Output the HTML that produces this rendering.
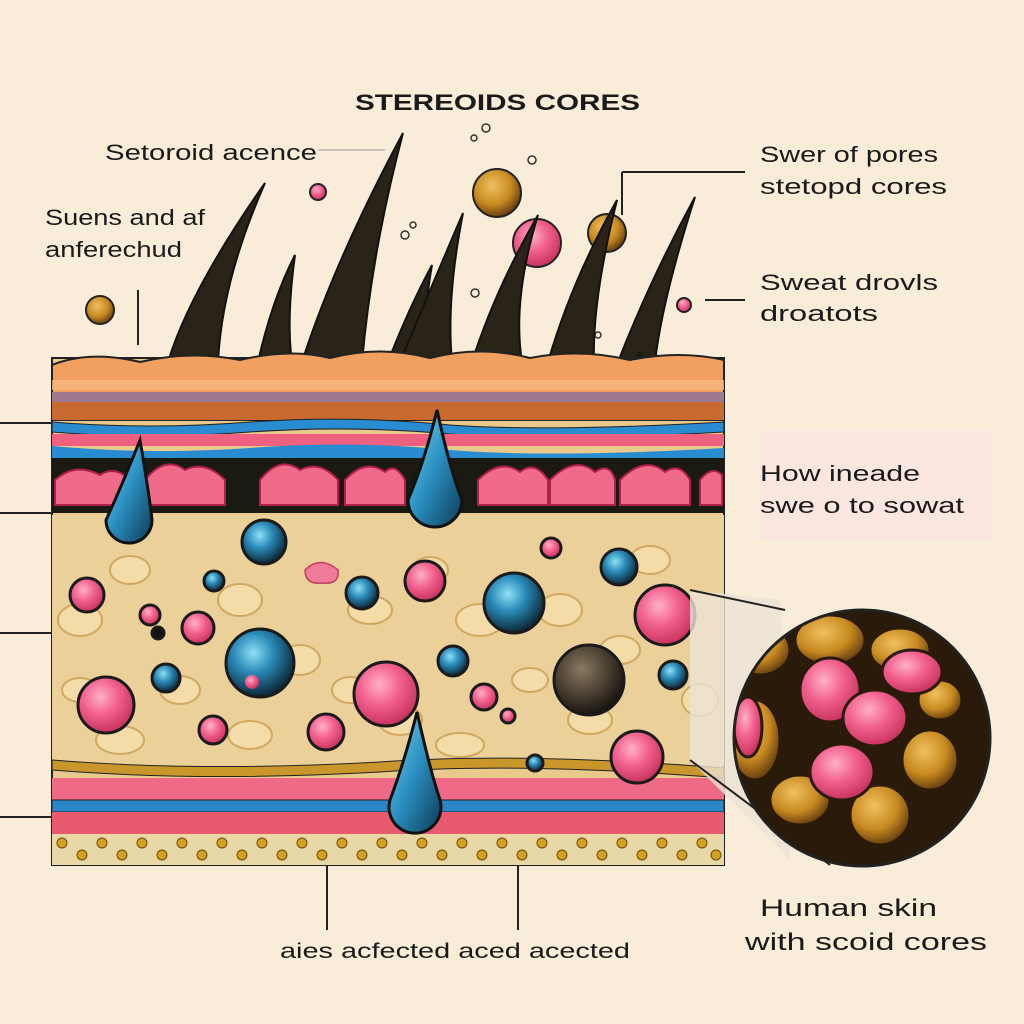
<!DOCTYPE html>
<html><head><meta charset="utf-8"><style>
html,body{margin:0;padding:0;background:#f9ecd9;}
svg{display:block}
text{font-family:"Liberation Sans",sans-serif;fill:#1a1a1a}
</style></head><body>
<svg width="1024" height="1024" viewBox="0 0 1024 1024" xmlns="http://www.w3.org/2000/svg">
<defs>
<radialGradient id="pk" cx="40%" cy="35%" r="65%"><stop offset="0" stop-color="#ffb0c8"/><stop offset="0.5" stop-color="#f2608e"/><stop offset="1" stop-color="#c8345e"/></radialGradient>
<radialGradient id="bl" cx="40%" cy="35%" r="65%"><stop offset="0" stop-color="#8ee0f4"/><stop offset="0.45" stop-color="#2a8ab8"/><stop offset="1" stop-color="#0c2838"/></radialGradient>
<radialGradient id="go" cx="40%" cy="35%" r="65%"><stop offset="0" stop-color="#f0c060"/><stop offset="0.6" stop-color="#c88a20"/><stop offset="1" stop-color="#6a4010"/></radialGradient>
<radialGradient id="dk" cx="40%" cy="35%" r="65%"><stop offset="0" stop-color="#8a7860"/><stop offset="1" stop-color="#1a1510"/></radialGradient>
<linearGradient id="drop" x1="0" y1="0" x2="1" y2="1"><stop offset="0" stop-color="#7ad8f0"/><stop offset="0.5" stop-color="#2a8fc0"/><stop offset="1" stop-color="#0e3a55"/></linearGradient>
<clipPath id="mag"><circle cx="862" cy="738" r="128"/></clipPath>
</defs>

<!-- title & labels -->
<text x="355" y="110" font-size="22" font-weight="bold" textLength="285" lengthAdjust="spacingAndGlyphs">STEREOIDS CORES</text>
<text x="105" y="160" font-size="22" textLength="212" lengthAdjust="spacingAndGlyphs">Setoroid acence</text>
<line x1="318" y1="150" x2="385" y2="150" stroke="#999" stroke-width="1"/>
<text x="45" y="225" font-size="22" textLength="160" lengthAdjust="spacingAndGlyphs">Suens and af</text>
<text x="45" y="257" font-size="22" textLength="137" lengthAdjust="spacingAndGlyphs">anferechud</text>
<text x="760" y="162" font-size="22" textLength="178" lengthAdjust="spacingAndGlyphs">Swer of pores</text>
<text x="760" y="194" font-size="22" textLength="187" lengthAdjust="spacingAndGlyphs">stetopd cores</text>
<text x="760" y="290" font-size="22" textLength="178" lengthAdjust="spacingAndGlyphs">Sweat drovls</text>
<text x="760" y="321" font-size="22" textLength="118" lengthAdjust="spacingAndGlyphs">droatots</text>
<rect x="758" y="430" width="235" height="110" fill="#fbe4e4" opacity="0.6"/>
<text x="760" y="481" font-size="22" textLength="160" lengthAdjust="spacingAndGlyphs">How ineade</text>
<text x="760" y="513" font-size="22" textLength="204" lengthAdjust="spacingAndGlyphs">swe o to sowat</text>
<text x="760" y="916" font-size="24" textLength="177" lengthAdjust="spacingAndGlyphs">Human skin</text>
<text x="745" y="950" font-size="24" textLength="242" lengthAdjust="spacingAndGlyphs">with scoid cores</text>
<text x="280" y="958" font-size="21" textLength="350" lengthAdjust="spacingAndGlyphs">aies acfected aced acected</text>

<!-- leader lines -->
<g stroke="#222" stroke-width="2" fill="none">
<path d="M622 172 L622 215"/><path d="M622 172 L745 172"/>
<path d="M705 300 L745 300"/>
<line x1="138" y1="290" x2="138" y2="345"/>
<line x1="0" y1="423" x2="55" y2="423"/>
<line x1="0" y1="513" x2="55" y2="513"/>
<line x1="0" y1="633" x2="160" y2="633"/>
<line x1="0" y1="817" x2="55" y2="817"/>
<line x1="327" y1="745" x2="327" y2="930"/>
<line x1="518" y1="735" x2="518" y2="930"/>
<line x1="688" y1="550" x2="688" y2="760"/>
</g>

<!-- floating spheres -->
<circle cx="497" cy="193" r="24" fill="url(#go)" stroke="#222" stroke-width="2"/>
<circle cx="537" cy="243" r="24" fill="url(#pk)" stroke="#222" stroke-width="2"/>
<circle cx="607" cy="233" r="19" fill="url(#go)" stroke="#222" stroke-width="2"/>
<circle cx="100" cy="310" r="14" fill="url(#go)" stroke="#222" stroke-width="2"/>
<circle cx="318" cy="192" r="8" fill="url(#pk)" stroke="#222" stroke-width="2"/>
<circle cx="684" cy="305" r="7" fill="url(#pk)" stroke="#222" stroke-width="2"/>
<g fill="none" stroke="#333" stroke-width="1.5">
<circle cx="486" cy="128" r="4"/><circle cx="474" cy="138" r="3"/><circle cx="532" cy="160" r="4"/>
<circle cx="405" cy="235" r="4"/><circle cx="413" cy="225" r="3"/><circle cx="475" cy="293" r="4"/><circle cx="598" cy="335" r="3"/>
</g>

<!-- hairs -->
<g fill="#2a2418" stroke="#111" stroke-width="2">
<path d="M168 362 Q190 290 265 183 Q222 280 218 362 Z"/>
<path d="M258 362 Q272 300 295 255 Q286 320 292 362 Z"/>
<path d="M302 362 Q335 260 403 133 Q372 250 362 362 Z"/>
<path d="M388 362 Q408 310 432 265 Q422 320 428 362 Z"/>
<path d="M400 362 Q430 290 463 213 Q446 300 452 362 Z"/>
<path d="M472 362 Q495 290 538 215 Q512 300 522 362 Z"/>
<path d="M548 362 Q572 280 617 200 Q592 300 594 362 Z"/>
<path d="M618 362 Q650 280 695 197 Q662 300 655 362 Z"/>
</g>
<g stroke="#1a1a12" stroke-width="7" fill="none" stroke-linecap="round">
<path d="M182 360 Q160 430 138 470"/>
<path d="M640 355 Q615 400 600 435"/>
</g>

<!-- skin block -->
<rect x="52" y="358" width="672" height="507" fill="#e9c98c" stroke="#222" stroke-width="2"/>
<path d="M52 365 Q90 350 140 362 Q190 350 240 360 Q290 348 330 358 Q380 345 430 358 Q480 345 530 358 Q580 348 630 360 Q680 350 724 360 L724 420 L52 420 Z" fill="#f2a060" stroke="#222" stroke-width="2"/>
<rect x="52" y="380" width="672" height="10" fill="#f6b880" opacity="0.8"/>
<rect x="52" y="392" width="672" height="10" fill="#a07890"/>
<rect x="52" y="402" width="672" height="18" fill="#c86a30"/>
<path d="M52 422 Q150 430 250 422 Q350 415 450 425 Q550 432 724 422 L724 432 Q550 442 450 434 Q350 425 250 432 Q150 440 52 432 Z" fill="#2a8cd0" stroke="#222" stroke-width="1"/>
<rect x="52" y="434" width="672" height="12" fill="#f06080"/>
<path d="M52 446 Q150 455 250 448 Q350 440 450 450 Q550 458 724 448 L724 458 L52 458 Z" fill="#2a8cd0"/>
<rect x="52" y="458" width="672" height="55" fill="#1a1a12"/>
<g fill="#f06a8a" stroke="#b0204a" stroke-width="2">
<path d="M55 505 L55 480 Q75 462 100 475 Q115 465 130 480 L130 505 Z"/>
<path d="M145 505 L145 480 Q165 455 185 470 Q205 460 225 480 L225 505 Z"/>
<path d="M260 505 L260 480 Q280 455 300 470 Q320 460 338 480 L338 505 Z"/>
<path d="M345 505 L345 480 Q365 458 385 472 Q395 462 405 480 L405 505 Z"/>
<path d="M478 505 L478 480 Q500 458 520 472 Q535 460 548 480 L548 505 Z"/>
<path d="M550 505 L550 480 Q575 455 595 472 Q610 462 615 480 L615 505 Z"/>
<path d="M620 505 L620 480 Q645 455 665 472 Q680 462 690 480 L690 505 Z"/>
<path d="M700 505 L700 480 Q712 465 722 475 L722 505 Z"/>
</g>
<rect x="52" y="515" width="672" height="250" fill="#ecd09a"/>
<g fill="#f3dca8" stroke="#d2a860" stroke-width="2">
<ellipse cx="80" cy="620" rx="22" ry="16"/><ellipse cx="130" cy="570" rx="20" ry="14"/><ellipse cx="240" cy="600" rx="22" ry="16"/>
<ellipse cx="300" cy="660" rx="20" ry="15"/><ellipse cx="370" cy="610" rx="22" ry="14"/><ellipse cx="480" cy="620" rx="24" ry="16"/>
<ellipse cx="560" cy="610" rx="22" ry="16"/><ellipse cx="620" cy="650" rx="20" ry="14"/><ellipse cx="120" cy="740" rx="24" ry="14"/>
<ellipse cx="250" cy="735" rx="22" ry="14"/><ellipse cx="400" cy="720" rx="22" ry="15"/><ellipse cx="460" cy="745" rx="24" ry="12"/>
<ellipse cx="590" cy="720" rx="22" ry="14"/><ellipse cx="180" cy="690" rx="20" ry="14"/><ellipse cx="350" cy="690" rx="18" ry="13"/>
<ellipse cx="430" cy="570" rx="18" ry="13"/><ellipse cx="650" cy="560" rx="20" ry="14"/><ellipse cx="700" cy="700" rx="18" ry="16"/>
<ellipse cx="80" cy="690" rx="18" ry="12"/><ellipse cx="530" cy="680" rx="18" ry="12"/>
</g>
<path d="M52 760 Q200 772 380 762 Q520 752 724 768 L724 778 Q520 762 380 772 Q200 782 52 770 Z" fill="#c8962a" stroke="#222" stroke-width="1"/>
<rect x="52" y="778" width="672" height="22" fill="#ee6a86"/>
<rect x="52" y="800" width="672" height="12" fill="#2a86c8" stroke="#222" stroke-width="1"/>
<rect x="52" y="812" width="672" height="22" fill="#e85a6e"/>
<rect x="52" y="834" width="672" height="31" fill="#e8d8a8"/>
<g fill="#d4a020" stroke="#6a4a10" stroke-width="1">
<circle cx="62" cy="843" r="5"/><circle cx="82" cy="855" r="5"/><circle cx="102" cy="843" r="5"/><circle cx="122" cy="855" r="5"/><circle cx="142" cy="843" r="5"/><circle cx="162" cy="855" r="5"/><circle cx="182" cy="843" r="5"/><circle cx="202" cy="855" r="5"/><circle cx="222" cy="843" r="5"/><circle cx="242" cy="855" r="5"/><circle cx="262" cy="843" r="5"/><circle cx="282" cy="855" r="5"/><circle cx="302" cy="843" r="5"/><circle cx="322" cy="855" r="5"/><circle cx="342" cy="843" r="5"/><circle cx="362" cy="855" r="5"/><circle cx="382" cy="843" r="5"/><circle cx="402" cy="855" r="5"/><circle cx="422" cy="843" r="5"/><circle cx="442" cy="855" r="5"/><circle cx="462" cy="843" r="5"/><circle cx="482" cy="855" r="5"/><circle cx="502" cy="843" r="5"/><circle cx="522" cy="855" r="5"/><circle cx="542" cy="843" r="5"/><circle cx="562" cy="855" r="5"/><circle cx="582" cy="843" r="5"/><circle cx="602" cy="855" r="5"/><circle cx="622" cy="843" r="5"/><circle cx="642" cy="855" r="5"/><circle cx="662" cy="843" r="5"/><circle cx="682" cy="855" r="5"/><circle cx="702" cy="843" r="5"/><circle cx="716" cy="855" r="5"/>
</g>
<g stroke="#1a1a1a" stroke-width="3">
<circle cx="87" cy="595" r="17" fill="url(#pk)"/><circle cx="150" cy="615" r="10" fill="url(#pk)"/><circle cx="198" cy="628" r="16" fill="url(#pk)"/>
<circle cx="106" cy="705" r="28" fill="url(#pk)"/><circle cx="213" cy="730" r="14" fill="url(#pk)"/><circle cx="326" cy="732" r="18" fill="url(#pk)"/>
<circle cx="386" cy="694" r="32" fill="url(#pk)"/><circle cx="425" cy="581" r="20" fill="url(#pk)"/><circle cx="484" cy="697" r="13" fill="url(#pk)"/>
<circle cx="551" cy="548" r="10" fill="url(#pk)"/><circle cx="665" cy="615" r="30" fill="url(#pk)"/><circle cx="637" cy="757" r="26" fill="url(#pk)"/>
<circle cx="508" cy="716" r="7" fill="url(#pk)"/>
<circle cx="264" cy="542" r="22" fill="url(#bl)"/><circle cx="214" cy="581" r="10" fill="url(#bl)"/><circle cx="362" cy="593" r="16" fill="url(#bl)"/>
<circle cx="260" cy="663" r="34" fill="url(#bl)"/><circle cx="166" cy="678" r="14" fill="url(#bl)"/><circle cx="453" cy="661" r="15" fill="url(#bl)"/>
<circle cx="514" cy="603" r="30" fill="url(#bl)"/><circle cx="619" cy="567" r="18" fill="url(#bl)"/><circle cx="673" cy="675" r="14" fill="url(#bl)"/>
<circle cx="535" cy="763" r="8" fill="url(#bl)"/>
<circle cx="589" cy="680" r="35" fill="url(#dk)"/>
<circle cx="158" cy="633" r="6" fill="#111"/>
</g>
<circle cx="252" cy="682" r="7" fill="url(#pk)"/>
<path d="M305 570 Q320 555 338 570 Q340 585 322 583 Q305 585 305 570Z" fill="#f07a9a" stroke="#c04060" stroke-width="1.5"/>
<g stroke="#111" stroke-width="3" fill="url(#drop)">
<path d="M140 440 Q150 500 152 520 A23 23 0 1 1 106 520 Q120 490 140 440Z"/>
<path d="M437 410 Q450 470 462 500 A26 26 0 1 1 408 500 Q425 460 437 410Z"/>
<path d="M417 712 Q430 770 440 800 A26 26 0 1 1 390 800 Q405 760 417 712Z"/>
</g>

<!-- magnifier -->
<path d="M690 590 L780 600 L790 860 L690 760 Z" fill="#ece4d4" opacity="0.8"/>
<line x1="690" y1="590" x2="785" y2="610" stroke="#222" stroke-width="2"/>
<line x1="690" y1="760" x2="830" y2="865" stroke="#222" stroke-width="2"/>
<circle cx="862" cy="738" r="128" fill="#efe3cc" stroke="#222" stroke-width="2"/>
<g clip-path="url(#mag)">
<rect x="730" y="610" width="265" height="260" fill="#2a1a0a"/>
<g stroke="#2a1a0a" stroke-width="3">
<ellipse cx="760" cy="650" rx="30" ry="25" fill="url(#go)"/><ellipse cx="830" cy="640" rx="35" ry="25" fill="url(#go)"/>
<ellipse cx="900" cy="650" rx="30" ry="22" fill="url(#go)"/><ellipse cx="755" cy="740" rx="25" ry="40" fill="url(#go)"/>
<ellipse cx="800" cy="800" rx="30" ry="25" fill="url(#go)"/><ellipse cx="880" cy="815" rx="30" ry="30" fill="url(#go)"/>
<ellipse cx="930" cy="760" rx="28" ry="30" fill="url(#go)"/><ellipse cx="940" cy="700" rx="22" ry="20" fill="url(#go)"/>
<ellipse cx="830" cy="690" rx="30" ry="32" fill="url(#pk)"/><ellipse cx="875" cy="718" rx="32" ry="28" fill="url(#pk)"/>
<ellipse cx="912" cy="672" rx="30" ry="22" fill="url(#pk)"/><ellipse cx="842" cy="772" rx="32" ry="28" fill="url(#pk)"/>
<ellipse cx="748" cy="727" rx="14" ry="30" fill="url(#pk)"/>
</g>
</g>
<circle cx="862" cy="738" r="128" fill="none" stroke="#222" stroke-width="3"/>
</svg>
</body></html>
